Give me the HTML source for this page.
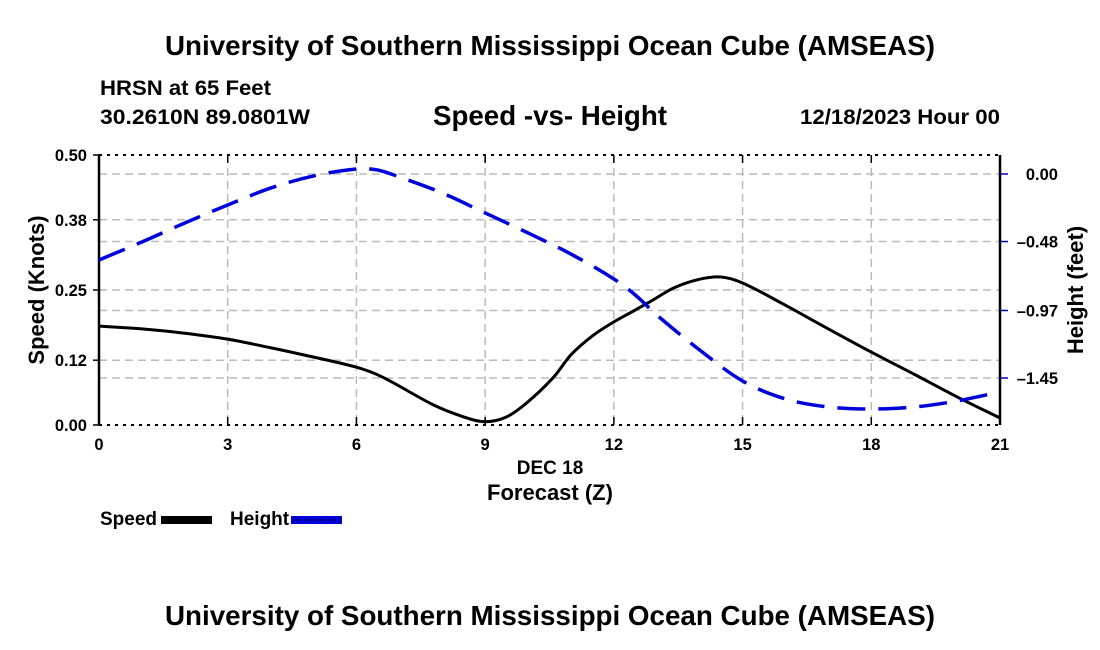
<!DOCTYPE html>
<html><head><meta charset="utf-8"><style>
body{margin:0;background:#fff;width:1100px;height:650px;overflow:hidden}
svg{display:block;font-family:"Liberation Sans",Arial,sans-serif;font-weight:bold}
</style></head><body>
<svg id="chart" width="1100" height="650" viewBox="0 0 1100 650" xmlns="http://www.w3.org/2000/svg">
<text x="550" y="55" font-size="27.5" text-anchor="middle" textLength="770" lengthAdjust="spacingAndGlyphs">University of Southern Mississippi Ocean Cube (AMSEAS)</text>
<text x="100" y="95" font-size="21.5" textLength="171" lengthAdjust="spacingAndGlyphs">HRSN at 65 Feet</text>
<text x="100" y="124" font-size="21.5" textLength="210" lengthAdjust="spacingAndGlyphs">30.2610N  89.0801W</text>
<text x="550" y="125" font-size="27.5" text-anchor="middle" textLength="234" lengthAdjust="spacingAndGlyphs">Speed -vs- Height</text>
<text x="1000" y="124" font-size="21.5" text-anchor="end" textLength="200" lengthAdjust="spacingAndGlyphs">12/18/2023 Hour 00</text>
<g id="grid"></g>
<g id="axes"></g>
<g id="series"></g>
<text x="550" y="474" font-size="19" text-anchor="middle">DEC 18</text>
<text x="550" y="500" font-size="22" text-anchor="middle">Forecast (Z)</text>
<text transform="translate(44,290) rotate(-90)" font-size="22" text-anchor="middle">Speed (Knots)</text>
<text transform="translate(1083,290) rotate(-90)" font-size="22" text-anchor="middle">Height (feet)</text>
<g>
<text x="100" y="525" font-size="19">Speed</text>
<rect x="161" y="516" width="51" height="8" fill="#000"/>
<text x="230" y="525" font-size="19">Height</text>
<rect x="291" y="516" width="51" height="8" fill="#0000dd"/>
<line x1="293" y1="520" x2="342" y2="520" stroke="#000066" stroke-width="1.5" stroke-dasharray="8,4"/>
</g>
<text x="550" y="625" font-size="27.5" text-anchor="middle" textLength="770" lengthAdjust="spacingAndGlyphs">University of Southern Mississippi Ocean Cube (AMSEAS)</text>
</svg>
<script>
const hours=[0,1,2,3,4,4.7,6,6.6,7.8,8.5,9,9.5,10,10.6,11,11.5,12,12.5,12.9,13.4,14,14.5,15,15.9,17,18,19,20,21];
const speed=[0.183,0.178,0.170,0.159,0.143,0.131,0.107,0.089,0.037,0.015,0.006,0.015,0.043,0.089,0.130,0.165,0.191,0.213,0.231,0.254,0.270,0.274,0.263,0.226,0.178,0.135,0.094,0.052,0.013];
const hHours=[0,1,2,3,4,5,6,6.5,7,8,9,10,11,12,12.5,13,14,15,16,17,18,19,20,21];
const height=[-0.611,-0.483,-0.348,-0.220,-0.100,-0.014,0.036,0.028,-0.021,-0.135,-0.277,-0.419,-0.569,-0.746,-0.860,-1.002,-1.251,-1.471,-1.599,-1.656,-1.670,-1.656,-1.613,-1.549];
const xTicks=[0,3,6,9,12,15,18,21];
const leftTicks=[0,0.12,0.25,0.38,0.50];
const leftLabels=["0.00","0.12","0.25","0.38","0.50"];
const rightTicks=[0,-0.48,-0.97,-1.45];
const rightLabels=["0.00","-0.48","-0.97","-1.45"];

const X0=99,X1=1000,Y0=425,Y1=155;
const xs=h=>X0+(h/21)*(X1-X0);
const yl=v=>Y0-(v/0.5)*(Y0-Y1);
const yr=v=>174-v*140.7;
const NS="http://www.w3.org/2000/svg";
function mk(tag,attrs,parent){const e=document.createElementNS(NS,tag);for(const k in attrs)e.setAttribute(k,attrs[k]);parent.appendChild(e);return e;}
const grid=document.getElementById('grid'),axes=document.getElementById('axes'),series=document.getElementById('series');

xTicks.forEach(t=>{
 if(t>0&&t<21){const g=mk('line',{x1:xs(t),x2:xs(t),y1:Y1,y2:Y0,stroke:'#bbb','stroke-width':1.5,'stroke-dasharray':'8,5'},grid);
 
 }
 mk('line',{x1:xs(t),x2:xs(t),y1:Y0,y2:Y0-8,stroke:'#000','stroke-width':1.5},axes);
 mk('line',{x1:xs(t),x2:xs(t),y1:Y1,y2:Y1+8,stroke:'#000','stroke-width':1.5},axes);
 const l=mk('text',{x:xs(t),y:Y0+25,'font-size':16.5,'text-anchor':'middle'},axes);l.textContent=t;
 
 
});
leftTicks.forEach((t,i)=>{
 if(i>0&&i<leftTicks.length-1){const g=mk('line',{x1:X0,x2:X1,y1:yl(t),y2:yl(t),stroke:'#bbb','stroke-width':1.5,'stroke-dasharray':'8,5'},grid);
 
 }
 mk('line',{x1:X0-6,x2:X0,y1:yl(t),y2:yl(t),stroke:'#000','stroke-width':1.5},axes);
 const l=mk('text',{x:X0-12,y:yl(t)+6,'font-size':16.5,'text-anchor':'end'},axes);l.textContent=leftLabels[i];
 
 
});
rightTicks.forEach((t,i)=>{
 const g=mk('line',{x1:X0,x2:X1,y1:yr(t),y2:yr(t),stroke:'#bbb','stroke-width':1.5,'stroke-dasharray':'8,5'},grid);
 
 
 mk('line',{x1:X1,x2:X1+8,y1:yr(t),y2:yr(t),stroke:'#0000cc','stroke-width':1.5},axes);
 const l=mk('text',{x:1058,y:yr(t)+6,'font-size':16.5,'text-anchor':'end'},axes);l.textContent=rightLabels[i].replace('-','\u2013');
 
 
});
mk('line',{x1:X0,x2:X1,y1:Y1,y2:Y1,stroke:'#000','stroke-width':2,'stroke-dasharray':'3,5'},axes);
mk('line',{x1:X0,x2:X1,y1:Y0,y2:Y0,stroke:'#000','stroke-width':2,'stroke-dasharray':'3,5'},axes);
mk('line',{x1:X0,x2:X0,y1:Y1,y2:Y0,stroke:'#000','stroke-width':2.5},axes);
mk('line',{x1:X1,x2:X1,y1:Y1,y2:Y0,stroke:'#000','stroke-width':2.5},axes);

function smooth(px){let d=`M${px[0][0]},${px[0][1]}`;
 const n=px.length,m=[];
 for(let i=0;i<n;i++){const a=px[Math.max(0,i-1)],b=px[Math.min(n-1,i+1)];m.push((b[1]-a[1])/(b[0]-a[0]));}
 for(let i=0;i<n-1;i++){const p1=px[i],p2=px[i+1],dx=(p2[0]-p1[0])/3;
  d+=` C${p1[0]+dx},${p1[1]+m[i]*dx} ${p2[0]-dx},${p2[1]-m[i+1]*dx} ${p2[0]},${p2[1]}`;}
 return d;}
const sp=mk('path',{d:smooth(hours.map((h,i)=>[xs(h),yl(speed[i])])),fill:'none',stroke:'#000','stroke-width':3,'stroke-linejoin':'round'},series);


const hp=mk('path',{d:smooth(hHours.map((h,i)=>[xs(h),yr(height[i])])),fill:'none',stroke:'#0000dd','stroke-width':3.5,'stroke-dasharray':'28,13'},series);


</script>
</body></html>
